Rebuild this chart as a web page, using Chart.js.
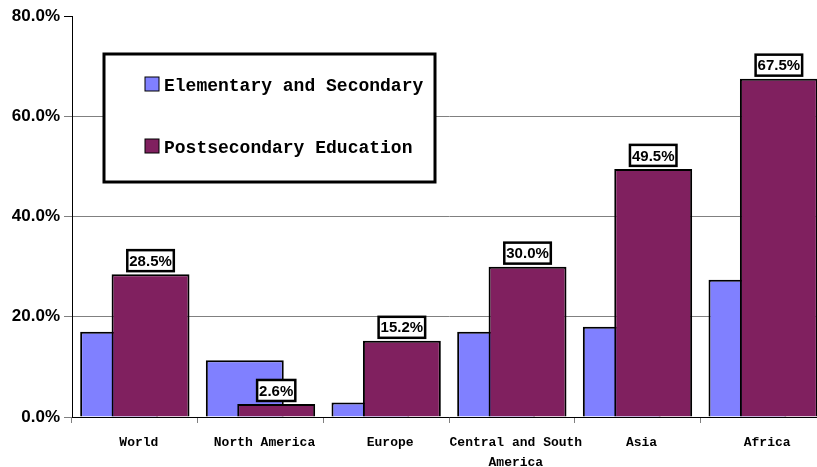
<!DOCTYPE html>
<html>
<head>
<meta charset="utf-8">
<script src="https://cdn.jsdelivr.net/npm/chart.js@4.4.1/dist/chart.umd.min.js"></script>
<style>
  html, body { margin: 0; padding: 0; background: #fff; overflow: hidden; }
  /* a bit wider than the window: the original is cut off at the right edge */
  #wrap { width: 826px; height: 467px; }
</style>
</head>
<body>
<div id="wrap"><canvas id="chart"></canvas></div>
<script>
const regions = ['World', 'North America', 'Europe', ['Central and South', 'America'], 'Asia', 'Africa'];
const elementary = [17.0, 11.3, 2.9, 17.0, 18.0, 27.4];
const postsecondary = [28.5, 2.6, 15.2, 30.0, 49.5, 67.5];
const yTicks = [0, 20, 40, 60, 80];
const seriesNames = ['Elementary and Secondary', 'Postsecondary Education'];

const GRAY = '#808080';

// purple bars are drawn after the blue ones so they sit on top
const purpleOnTop = {
  id: 'purpleOnTop',
  beforeDatasetDraw(chart, args) {
    if (args.index === 1 && !chart.$late) return false;
  },
  afterDatasetsDraw(chart) {
    const a = chart.chartArea;
    const ctx = chart.ctx;
    ctx.save();
    ctx.beginPath();
    ctx.rect(a.left, 0, a.right - a.left, a.bottom);
    ctx.clip();
    chart.$late = true;
    chart.getDatasetMeta(1).controller.draw();
    chart.$late = false;
    ctx.restore();
  }
};

// white boxed value labels above the purple bars
const valueBoxes = {
  id: 'valueBoxes',
  afterDatasetsDraw(chart) {
    const ctx = chart.ctx;
    const meta = chart.getDatasetMeta(1);
    ctx.save();
    ctx.font = 'bold 15px "Liberation Sans", Arial, sans-serif';
    ctx.textAlign = 'center';
    ctx.textBaseline = 'middle';
    meta.data.forEach((bar, i) => {
      const txt = postsecondary[i].toFixed(1) + '%';
      const w = ctx.measureText(txt).width + 4;
      const h = 21;
      const x = bar.x - w / 2;
      const y = bar.y - 3 - h;
      ctx.fillStyle = '#fff';
      ctx.fillRect(x, y, w, h);
      ctx.lineWidth = 2.5;
      ctx.strokeStyle = '#000';
      ctx.strokeRect(x, y, w, h);
      ctx.fillStyle = '#000';
      ctx.fillText(txt, bar.x, y + h / 2 + 1);
    });
    ctx.restore();
  }
};

// boxed legend inside the plot
const boxLegend = {
  id: 'boxLegend',
  afterDraw(chart) {
    const ctx = chart.ctx;
    ctx.save();
    ctx.fillStyle = '#fff';
    ctx.fillRect(104, 54, 331, 128);
    ctx.lineWidth = 3;
    ctx.strokeStyle = '#000';
    ctx.strokeRect(104, 54, 331, 128);
    ctx.font = 'bold 18px "Liberation Mono", "Courier New", monospace';
    ctx.textBaseline = 'alphabetic';
    chart.data.datasets.forEach((ds, i) => {
      const base = 91 + i * 62;
      ctx.fillStyle = ds.backgroundColor;
      ctx.fillRect(145, base - 14, 14, 14);
      ctx.lineWidth = 1;
      ctx.strokeStyle = '#000';
      ctx.strokeRect(145, base - 14, 14, 14);
      ctx.fillStyle = '#000';
      ctx.fillText(ds.label, 164, base);
    });
    ctx.restore();
  }
};

new Chart(document.getElementById('chart'), {
  type: 'bar',
  data: {
    labels: regions,
    datasets: [
      {
        label: seriesNames[0],
        data: elementary,
        backgroundColor: '#8080ff',
        borderColor: '#000',
        borderWidth: 2
      },
      {
        label: seriesNames[1],
        data: postsecondary,
        backgroundColor: '#80205f',
        borderColor: '#000',
        borderWidth: 2
      }
    ]
  },
  options: {
    responsive: true,
    maintainAspectRatio: false,
    animation: false,
    categoryPercentage: 0.5,
    barPercentage: 2.48,
    layout: { padding: { top: 16, right: 0, left: 0, bottom: 0 } },
    plugins: {
      legend: { display: false },
      tooltip: { enabled: false }
    },
    scales: {
      x: {
        grid: {
          drawOnChartArea: false,
          color: GRAY,
          tickLength: 6
        },
        border: { color: '#000', width: 1 },
        ticks: {
          color: '#000',
          padding: 10,
          labelOffset: 4,
          maxRotation: 0,
          autoSkip: false,
          font: { family: '"Liberation Mono", "Courier New", monospace', size: 13, weight: 'bold', lineHeight: 1.5 }
        },
        afterFit(scale) { scale.height = 50; }
      },
      y: {
        min: 0,
        max: 80,
        afterBuildTicks(scale) { scale.ticks = yTicks.map(v => ({ value: v })); },
        grid: {
          color: ctx => (ctx.tick && ctx.tick.value === 80) ? 'rgba(0,0,0,0)' : GRAY,
          tickColor: ctx => (ctx.tick && ctx.tick.value === 80) ? '#000' : GRAY,
          tickLength: 8
        },
        border: { color: '#000', width: 1 },
        ticks: {
          color: '#000',
          padding: 4,
          callback: v => v.toFixed(1) + '%',
          font: { family: '"Liberation Sans", Arial, sans-serif', size: 17, weight: 'bold' }
        },
        afterFit(scale) { scale.width = 72; }
      }
    }
  },
  plugins: [purpleOnTop, valueBoxes, boxLegend]
});
</script>
</body>
</html>
